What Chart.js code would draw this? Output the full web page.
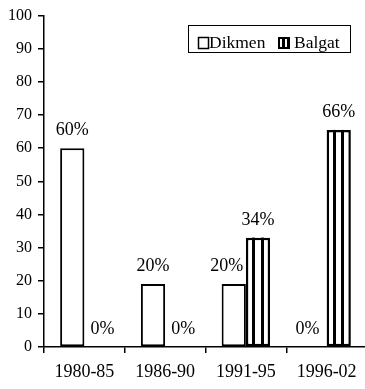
<!DOCTYPE html>
<html>
<head>
<meta charset="utf-8">
<script src="https://cdn.jsdelivr.net/npm/chart.js@4.4.1/dist/chart.umd.min.js"></script>
<style>
  html, body { margin: 0; padding: 0; background: #fff; overflow: hidden; }
  #wrap { width: 367px; height: 389px; position: relative; }
</style>
</head>
<body>
<div id="wrap"><canvas id="c" width="367" height="389"></canvas></div>
<script>
const categories = ['1980-85', '1986-90', '1991-95', '1996-02'];
const dikmenValues = [60, 19, 19, 0];
const balgatValues = [0, 0, 33, 65.5];
const dikmenLabels = ['60%', '20%', '20%', '0%'];
const balgatLabels = ['0%', '0%', '34%', '66%'];
const seriesNames = ['Dikmen', 'Balgat'];
const yTicks = [0, 10, 20, 30, 40, 50, 60, 70, 80, 90, 100];

const FONT = "'Liberation Serif', 'Times New Roman', serif";

const stripePlugin = {
  id: 'stripes',
  afterDatasetDraw(chart, args) {
    if (args.index !== 1) return;
    const ctx = chart.ctx;
    const meta = args.meta;
    ctx.save();
    ctx.fillStyle = '#000';
    meta.data.forEach(el => {
      const p = el.getProps(['x', 'y', 'base', 'width'], true);
      const h = p.base - p.y;
      if (h < 1) return;
      const left = p.x - p.width / 2;
      for (let k = 1; k <= 2; k++) {
        const sx = left + p.width * k / 3 - 1.5;
        ctx.fillRect(Math.round(sx), p.y, 3, h);
      }
    });
    ctx.restore();
  }
};

const labelPlugin = {
  id: 'valueLabels',
  afterDatasetsDraw(chart) {
    const ctx = chart.ctx;
    const m0 = chart.getDatasetMeta(0);
    const m1 = chart.getDatasetMeta(1);
    const allLabels = [dikmenLabels, balgatLabels];
    const allVals = [dikmenValues, balgatValues];
    ctx.save();
    ctx.font = '18px ' + FONT;
    ctx.fillStyle = '#000';
    ctx.textAlign = 'center';
    ctx.textBaseline = 'alphabetic';
    [m0, m1].forEach((meta, di) => {
      meta.data.forEach((el, i) => {
        const other = allVals[1 - di][i];
        const own = allVals[di][i];
        let dx = 0;
        if (other > own) dx = di === 0 ? -7 : 6;
        ctx.fillText(allLabels[di][i], el.x + dx, el.y - 13);
      });
    });
    ctx.restore();
  }
};

const legendPlugin = {
  id: 'boxLegend',
  afterDraw(chart) {
    const ctx = chart.ctx;
    ctx.save();
    ctx.strokeStyle = '#000';
    ctx.lineWidth = 1;
    ctx.strokeRect(188.5, 25.5, 162, 27);
    // Dikmen swatch
    ctx.fillStyle = '#fff';
    ctx.fillRect(198, 37, 11, 12);
    ctx.lineWidth = 1.5;
    ctx.strokeRect(198.5, 37.5, 10, 11);
    // Balgat swatch
    ctx.fillStyle = '#000';
    ctx.fillRect(278, 37, 12, 12);
    ctx.fillStyle = '#fff';
    ctx.fillRect(280, 39, 2, 8);
    ctx.fillRect(285, 39, 2, 8);
    ctx.fillStyle = '#000';
    ctx.font = '17.5px ' + FONT;
    ctx.textBaseline = 'alphabetic';
    ctx.textAlign = 'left';
    ctx.fillText(seriesNames[0], 209, 48);
    ctx.fillText(seriesNames[1], 294, 48);
    ctx.restore();
  }
};

const zeroless = w => (c => (c.raw === 0 ? 0 : w));

new Chart(document.getElementById('c'), {
  type: 'bar',
  data: {
    labels: categories,
    datasets: [
      {
        label: seriesNames[0],
        data: dikmenValues,
        backgroundColor: '#fff',
        borderColor: '#000',
        borderWidth: zeroless(2),
        borderSkipped: false
      },
      {
        label: seriesNames[1],
        data: balgatValues,
        backgroundColor: '#fff',
        borderColor: '#000',
        borderWidth: zeroless(2.5),
        borderSkipped: false
      }
    ]
  },
  options: {
    responsive: false,
    animation: false,
    devicePixelRatio: 1,
    layout: { padding: { top: 15, right: 0, left: 0, bottom: 0 } },
    plugins: {
      legend: { display: false },
      tooltip: { enabled: false }
    },
    datasets: {
      bar: { categoryPercentage: 0.6, barPercentage: 1.0 }
    },
    scales: {
      x: {
        offset: true,
        grid: {
          display: true,
          drawOnChartArea: false,
          drawTicks: true,
          tickLength: 6,
          color: '#000',
          lineWidth: 1.5,
          offset: true
        },
        border: { display: true, color: '#000', width: 1.5 },
        ticks: {
          color: '#000',
          font: { family: FONT, size: 18 },
          padding: 8,
          maxRotation: 0
        },
        afterFit(scale) { scale.height = 42; }
      },
      y: {
        min: 0,
        max: 100,
        afterBuildTicks(scale) { scale.ticks = yTicks.map(v => ({ value: v })); },
        grid: {
          display: true,
          drawOnChartArea: false,
          drawTicks: true,
          tickLength: 6,
          color: '#000',
          lineWidth: 1.5
        },
        border: { display: true, color: '#000', width: 1.5 },
        ticks: {
          color: '#000',
          font: { family: FONT, size: 16 },
          padding: 6
        },
        afterFit(scale) { scale.width = 44; }
      }
    }
  },
  plugins: [stripePlugin, labelPlugin, legendPlugin]
});
</script>
</body>
</html>
